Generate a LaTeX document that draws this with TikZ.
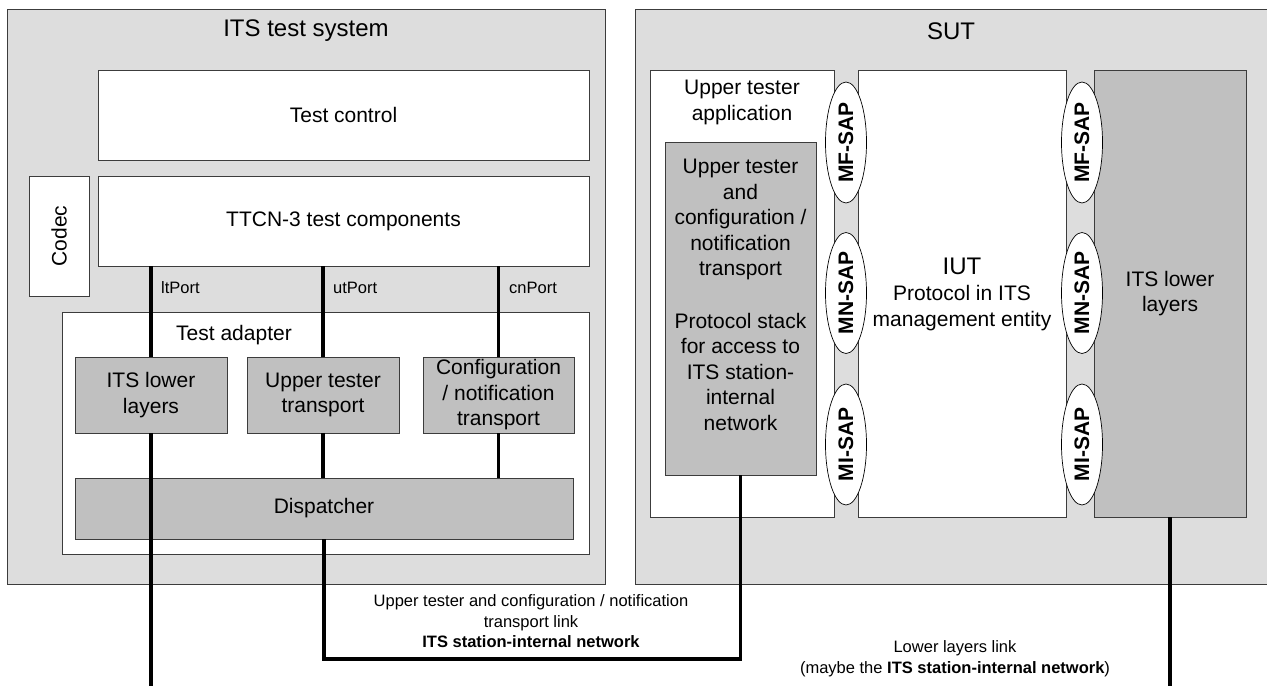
\documentclass[tikz,border=0pt]{standalone}
\usepackage{fontspec}
\setmainfont{Liberation Sans}
\usetikzlibrary{positioning,shapes.geometric}
\definecolor{sysgray}{RGB}{221,221,221}
\definecolor{boxgray}{RGB}{192,192,192}
\definecolor{rimgray}{RGB}{60,60,60}
\newcommand{\dgbox}{\fontsize{21}{25.5}\selectfont}
\newcommand{\dgsmall}{\fontsize{16.5}{20.5}\selectfont}
\newcommand{\dgtitle}{\fontsize{24}{28}\selectfont}
\newcommand{\dgsap}{\fontsize{21}{24}\selectfont\bfseries}

\begin{document}
\begin{tikzpicture}[x=1pt,y=-1pt,
  blk/.style={draw=rimgray,line width=0.9pt,inner sep=0pt,outer sep=0pt,font=\dgbox,align=center},
  whitebox/.style={blk,fill=white},
  graybox/.style={blk,fill=boxgray},
  sysbox/.style={blk,fill=sysgray},
  sap/.style={ellipse,draw=black,line width=0.7pt,fill=white,inner sep=0pt,outer sep=0pt,
    minimum width=121pt,minimum height=41pt,rotate=90,font=\dgsap},
  txt/.style={inner sep=0pt,align=center,font=\dgbox},
  smalltxt/.style={inner sep=0pt,align=center,font=\dgsmall},
  link/.style={line width=3.8pt,black}]
  \useasboundingbox (0,0) rectangle (1267,686);
  % test system
  \node[sysbox,minimum width=597.5pt,minimum height=575pt] (tsys) at (306.25,296.5) {};
  \node[txt,font=\dgtitle] (tsystitle) at (306,31) {ITS test system};
  \node[whitebox,minimum width=491pt,minimum height=90pt] (ctrl) at (343.5,115) {Test control};
  \node[whitebox,minimum width=491pt,minimum height=90pt] (ttcn) at (343.5,221) {TTCN-3 test components};
  \node[whitebox,rotate=90,minimum width=120pt,minimum height=60pt] (codec) at (59,236) {Codec};
  \node[whitebox,minimum width=527pt,minimum height=242pt] (adapter) at (325.5,433) {};
  \node[txt] (adaptertitle) at (234,335) {Test adapter};
  \node[graybox,minimum width=152pt,minimum height=76pt] (itslow) at (151,395) {ITS lower\\layers};
  \node[graybox,minimum width=152pt,minimum height=76pt] (uttr) at (323,395) {Upper tester\\transport};
  \node[graybox,minimum width=151pt,minimum height=76pt] (cntr) at (498.5,395) {Configuration\\/ notification\\transport};
  \node[graybox,minimum width=498pt,minimum height=61pt] (disp) at (324,508.5) {Dispatcher};
  % port labels
  \node[smalltxt,anchor=west] (ltlbl) at (161,288) {ltPort};
  \node[smalltxt,anchor=west] (utlbl) at (333,288) {utPort};
  \node[smalltxt,anchor=west] (cnlbl) at (509,288) {cnPort};
  % SUT
  \node[fill=sysgray,inner sep=0pt,outer sep=0pt,minimum width=632pt,minimum height=575pt] (sut) at (951,296.5) {};
  \draw[draw=rimgray,line width=0.9pt] (sut.north east) -- (sut.north west) -- (sut.south west) -- (sut.south east);
  \node[txt,font=\dgtitle] (suttitle) at (951,31) {SUT};
  \node[whitebox,minimum width=184pt,minimum height=447pt] (utapp) at (742,293.5) {};
  \node[txt] (utapptitle) at (742,102.5) {Upper tester\\application};
  \node[graybox,minimum width=151pt,minimum height=333pt] (utstack) at (740.5,308.5) {};
  \node[txt] (utstacktext) at (740.5,295) {Upper tester\\and\\configuration /\\notification\\transport\\[27pt]Protocol stack\\for access to\\ITS station-\\internal\\network};
  \node[whitebox,minimum width=208pt,minimum height=447pt] (iut) at (962,293.5) {};
  \node[txt,font=\fontsize{24}{28}\selectfont] (iutname) at (962,266) {IUT};
  \node[txt] (iutdesc) at (962,308) {Protocol in ITS\\management entity};
  \node[graybox,minimum width=152pt,minimum height=447pt] (sutlow) at (1170,293.5) {ITS lower\\layers};
  % service access points
  \foreach \y/\t/\n in {142.5/MF/f,293/MN/n,444.5/MI/i} {
    \node[sap] (lsap\n) at (846,\y) {\t-SAP};
    \node[sap] (rsap\n) at (1082,\y) {\t-SAP};
  }
  % links
  \coordinate (ltend) at (151,686);
  \coordinate (lowend) at (1170,686);
  \draw[link] (itslow.north) -- (itslow.north |- ttcn.south);
  \draw[link] (uttr.north) -- (uttr.north |- ttcn.south);
  \draw[link] (cntr.north) -- (cntr.north |- ttcn.south);
  \draw[link] (uttr.south) -- (uttr.south |- disp.north);
  \draw[link] (cntr.south) -- (cntr.south |- disp.north);
  \draw[link] (itslow.south) -- (ltend);
  \draw[link] (disp.south) -- ++(0,120) -| (utstack.south);
  \draw[link] (sutlow.south) -- (lowend);
  % link texts
  \node[smalltxt] (uplinktext) at (531,621.5) {Upper tester and configuration / notification\\transport link\\\textbf{ITS station-internal network}};
  \node[smalltxt] (lowlinktext) at (955,658.5) {Lower layers link\\(maybe the \textbf{ITS station-internal network})};
\end{tikzpicture}
\end{document}
